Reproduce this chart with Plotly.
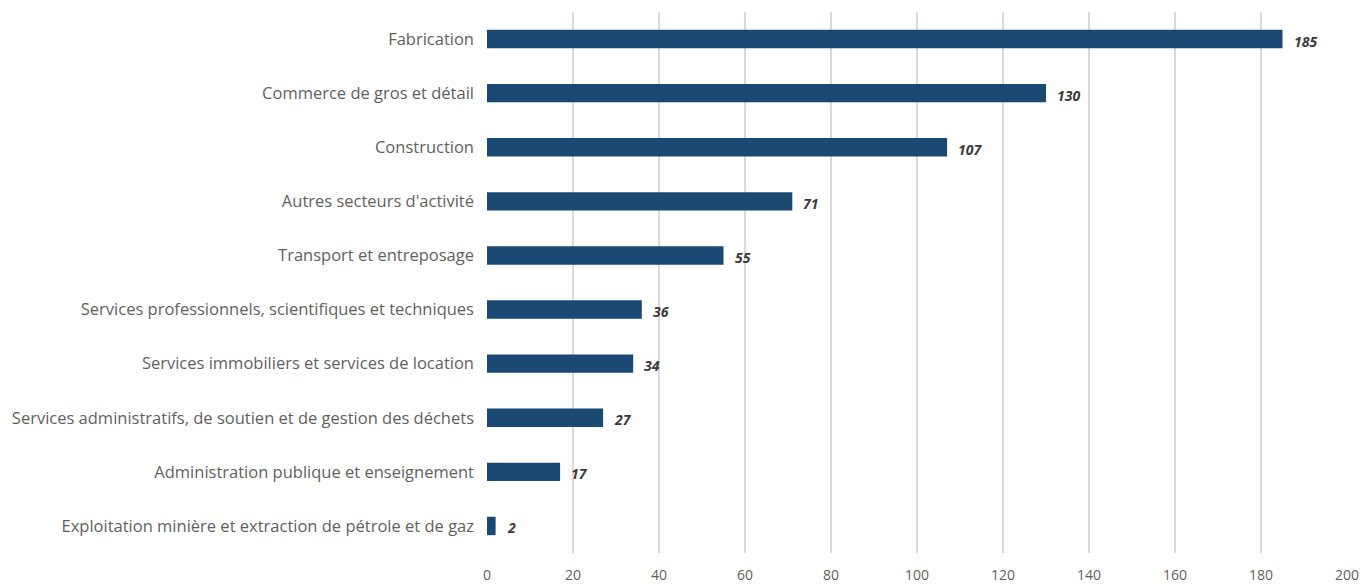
import plotly.graph_objects as go

categories = [
    "Fabrication",
    "Commerce de gros et détail",
    "Construction",
    "Autres secteurs d'activité",
    "Transport et entreposage",
    "Services professionnels, scientifiques et techniques",
    "Services immobiliers et services de location",
    "Services administratifs, de soutien et de gestion des déchets",
    "Administration publique et enseignement",
    "Exploitation minière et extraction de pétrole et de gaz",
]
values = [185, 130, 107, 71, 55, 36, 34, 27, 17, 2]
x_ticks = [0, 20, 40, 60, 80, 100, 120, 140, 160, 180, 200]

FONT = "'Open Sans', Lato, sans-serif"

fig = go.Figure()
fig.add_trace(go.Bar(
    y=categories,
    x=values,
    orientation="h",
    marker=dict(color="#1a4a73", line=dict(width=0)),
    width=0.34,
    hoverinfo="x+y",
))

for c, v in zip(categories, values):
    fig.add_annotation(
        x=v, y=c, text=str(v), showarrow=False,
        xanchor="left", xshift=9, yshift=-2,
        font=dict(family=FONT, size=14, color="#3a3a3a", weight="bold", style="italic"),
    )

fig.update_layout(
    width=1362, height=584,
    margin=dict(l=487, r=15, t=12, b=31, autoexpand=False),
    plot_bgcolor="white", paper_bgcolor="white",
    showlegend=False,
    font=dict(family=FONT, color="#5f5f5f"),
    bargap=0.66,
)
fig.update_xaxes(
    range=[0, 200],
    tickvals=x_ticks,
    showgrid=True, gridcolor="#d9d9d9", gridwidth=2,
    zeroline=False,
    showline=False,
    automargin=False,
    tickfont=dict(size=14, color="#5f5f5f"),
    ticklabelstandoff=12,
)
fig.update_yaxes(
    autorange="reversed",
    showgrid=False,
    automargin=False,
    tickfont=dict(size=16.5, color="#5f5f5f"),
    ticklabelstandoff=12,
)

fig.write_html(
    "out.html",
    config={"displayModeBar": False},
    post_script="document.body.style.margin='0';document.body.style.overflow='hidden';",
)
